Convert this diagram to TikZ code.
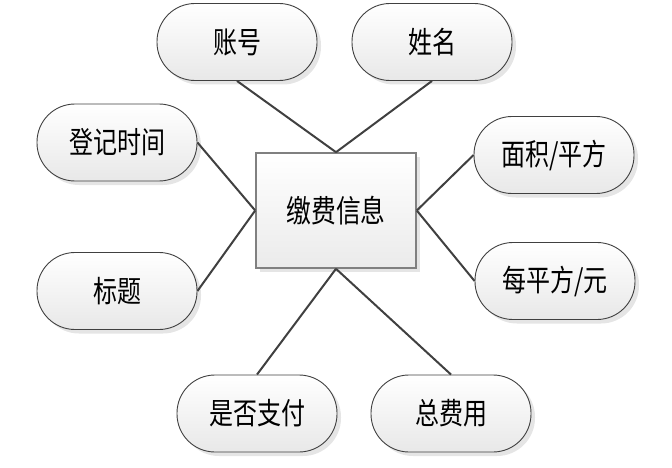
\documentclass[tikz,border=0pt]{standalone}
\usepackage{fontspec}
\newfontfamily\cjk[FakeStretch=0.8]{Noto Sans CJK SC}
\usetikzlibrary{shadows}
\tikzset{
  attr/.style={draw=black!75, line width=0.9pt, rounded corners=38pt,
    minimum width=160pt, minimum height=77pt, inner sep=0pt,
    top color=white, bottom color=black!9,
    drop shadow={shadow xshift=4pt, shadow yshift=-4pt, fill=black!10, opacity=1},
    font=\cjk\fontsize{30}{30}\selectfont},
  entity/.style={draw=black!50, line width=1.6pt,
    minimum width=160pt, minimum height=115pt, inner sep=0pt,
    top color=white, bottom color=black!8,
    drop shadow={shadow xshift=4pt, shadow yshift=-4pt, fill=black!10, opacity=1},
    font=\cjk\fontsize{31}{31}\selectfont},
  link/.style={draw=black!75, line width=2pt}
}
\begin{document}
\begin{tikzpicture}[x=1pt, y=-1pt]
    \useasboundingbox (0,0) rectangle (672,468);
    % Entidad central
    \node[entity] (fee) at (336,210.5) {缴费信息};
    % Atributos
    \node[attr] (acct)    at (237,42)    {账号};
    \node[attr] (uname)   at (432,42)    {姓名};
    \node[attr] (regtime) at (117,142.5) {登记时间};
    \node[attr] (title)   at (117,291)   {标题};
    \node[attr] (area)    at (554,155)   {面积/平方};
    \node[attr] (price)   at (555,281)   {每平方/元};
    \node[attr] (paid)    at (257,413.5) {是否支付};
    \node[attr] (total)   at (451,413.5) {总费用};
    % Conexiones
    \draw[link] (acct.south) -- (fee.north);
    \draw[link] (uname.south) -- (fee.north);
    \draw[link] (regtime.east) -- (fee.west);
    \draw[link] (title.east) -- (fee.west);
    \draw[link] (area.west) -- (fee.east);
    \draw[link] (price.west) -- (fee.east);
    \draw[link] (paid.north) -- (fee.south);
    \draw[link] (total.north) -- (fee.south);
\end{tikzpicture}
\end{document}
